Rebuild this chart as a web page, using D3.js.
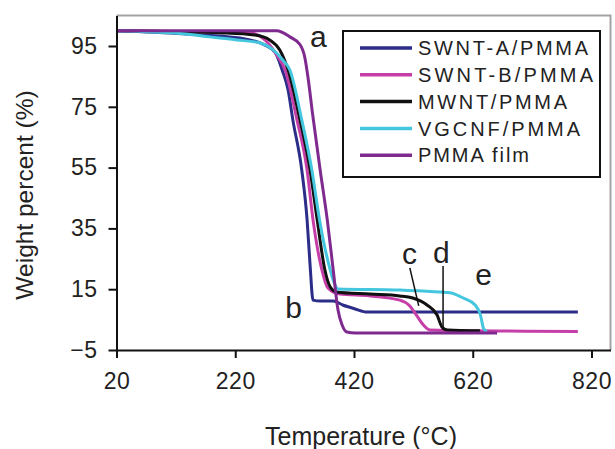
<!DOCTYPE html>
<html>
<head>
<meta charset="utf-8">
<script src="https://cdn.jsdelivr.net/npm/d3@7"></script>
<style>
  body { margin: 0; background: #fff; }
  text { font-family: "Liberation Sans", Arial, sans-serif; fill: #222; }
</style>
</head>
<body>
<svg id="chart" width="615" height="449"></svg>
<script>
// TGA curves, [temperature (C), weight percent]
var swntA = [[20,100],[132,99],[228,97.6],[270,95.3],[287,93],[299,87.1],[309,80.5],[317,70.7],
  [332,54.2],[341,37.8],[346,23],[351,11.4],[363,11.1],[385,11.1],[401,9.8],[422,8.5],[442,7.5],[797,7.5]];
var swntB = [[20,100],[245,99.3],[270,97],[290,92],[304,87.1],[324,70.7],[341,54.2],[351,37.8],
  [366,21.3],[376,15.4],[396,13.4],[447,12.8],[497,11.4],[514,9.5],[526,6.2],[537,3.2],[548,1.6],[797,1.1]];
var mwnt = [[20,100],[199,99.3],[253,98.6],[278,97],[295,93.7],[309,87.1],[329,70.7],[346,54.2],
  [358,37.8],[371,21.3],[380,15.7],[390,14.1],[447,13.4],[497,12.8],[519,12.1],[543,9.8],[560,6.5],
  [568,2.6],[577,1.6],[632,1.3]];
var vgcnf = [[20,100],[132,99],[177,98],[223,97],[262,96],[284,93.7],[300,90.4],[312,87.1],[332,70.7],
  [349,54.2],[362,37.8],[380,21.3],[388,16.4],[393,15.1],[497,14.7],[565,14.1],[582,13.8],[604,12.1],
  [624,9.8],[633,6.5],[638,2.2],[644,0.9]];
var pmmaFilm = [[20,100],[290,100],[312,98],[329,95.5],[337,91.4],[343,84],[350,73],
  [363,54.2],[375,37.8],[385,21.3],[393,8.2],[400,3.2],[408,0.9],[422,0.6],[661,0.6]];

var seriesNames = ['SWNT-A/PMMA', 'SWNT-B/PMMA', 'MWNT/PMMA', 'VGCNF/PMMA', 'PMMA film'];
var seriesData = [swntA, swntB, mwnt, vgcnf, pmmaFilm];
var seriesColors = ['#2b2d88', '#c63fa9', '#111111', '#44c7de', '#7e2a8f'];

var xTicks = [20, 220, 420, 620, 820];
var yTicks = [-5, 15, 35, 55, 75, 95];

// curve labels a-e and their pointer lines, in data units
var curveLabels = [['a', 346, 94.7], ['b', 304, 5.5], ['c', 501, 23.3], ['d', 553, 23.6], ['e', 624, 16.4]];
var pointers = [[[514, 22], [529, 9.5]], [[570, 22.6], [570, 1.6]]];

var svg = d3.select('#chart');

var x = d3.scaleLinear().domain([20, 852]).range([116.5, 610.5]);
var y = d3.scaleLinear().domain([-5, 105]).range([350, 15.6]);

// grey frame on top and right
svg.append('path')
  .attr('d', 'M' + x(20) + ',' + y(105) + 'H' + x(852) + 'V' + y(-5))
  .attr('fill', 'none')
  .attr('stroke', '#a3a3a3')
  .attr('stroke-width', 2);

var line = d3.line()
  .x(function(d) { return x(d[0]); })
  .y(function(d) { return y(d[1]); });
var smooth = d3.line()
  .curve(d3.curveMonotoneX)
  .x(function(d) { return x(d[0]); })
  .y(function(d) { return y(d[1]); });

svg.selectAll('path.curve')
  .data(seriesData)
  .enter().append('path')
  .classed('curve', true)
  .attr('d', smooth)
  .attr('fill', 'none')
  .attr('stroke', function(d, i) { return seriesColors[i]; })
  .attr('stroke-width', 3)
  .attr('stroke-linejoin', 'round');

// axes
var xAxis = svg.append('g')
  .attr('transform', 'translate(0,' + y(-5) + ')')
  .call(d3.axisBottom(x).tickValues(xTicks).tickSize(8).tickSizeOuter(0).tickPadding(15));
var yAxis = svg.append('g')
  .attr('transform', 'translate(' + x(20) + ',0)')
  .call(d3.axisLeft(y).tickValues(yTicks).tickSize(8).tickSizeOuter(0).tickPadding(11));

[xAxis, yAxis].forEach(function(g) {
  g.selectAll('path, line').attr('stroke', '#111').attr('stroke-width', 2);
  g.selectAll('text')
    .attr('fill', '#222')
    .style('font-family', '"Liberation Sans", Arial, sans-serif')
    .style('font-size', '23px')
    .style('letter-spacing', '0.5px');
});
xAxis.selectAll('text').attr('dy', '0.69em');

svg.append('text')
  .attr('x', 361).attr('y', 445)
  .attr('text-anchor', 'middle')
  .style('font-size', '25px')
  .text('Temperature (°C)');

svg.append('text')
  .attr('transform', 'translate(33,195) rotate(-90)')
  .attr('text-anchor', 'middle')
  .style('font-size', '24.5px')
  .text('Weight percent (%)');

// curve labels
svg.selectAll('text.curve-label')
  .data(curveLabels)
  .enter().append('text')
  .classed('curve-label', true)
  .attr('x', function(d) { return x(d[1]); })
  .attr('y', function(d) { return y(d[2]); })
  .style('font-size', '30px')
  .text(function(d) { return d[0]; });

svg.selectAll('path.pointer')
  .data(pointers)
  .enter().append('path')
  .classed('pointer', true)
  .attr('d', line)
  .attr('stroke', '#111')
  .attr('stroke-width', 1.5);

// legend
var legend = svg.append('g').attr('transform', 'translate(343,31)');
legend.append('rect')
  .attr('width', 257).attr('height', 146)
  .attr('fill', '#fff')
  .attr('stroke', '#111')
  .attr('stroke-width', 2);

var legendWidths = [170, 175, 149, 162, 111];
var rows = legend.selectAll('g.row')
  .data(seriesNames)
  .enter().append('g')
  .classed('row', true)
  .attr('transform', function(d, i) { return 'translate(0,' + (17 + i * 26.8) + ')'; });
rows.append('line')
  .attr('x1', 17).attr('x2', 69)
  .attr('stroke', function(d, i) { return seriesColors[i]; })
  .attr('stroke-width', 3.5);
rows.append('text')
  .attr('x', 75).attr('dy', '0.36em')
  .style('font-size', '20px')
  .attr('textLength', function(d, i) { return legendWidths[i]; })
  .attr('lengthAdjust', 'spacing')
  .text(function(d) { return d; });
</script>
</body>
</html>
